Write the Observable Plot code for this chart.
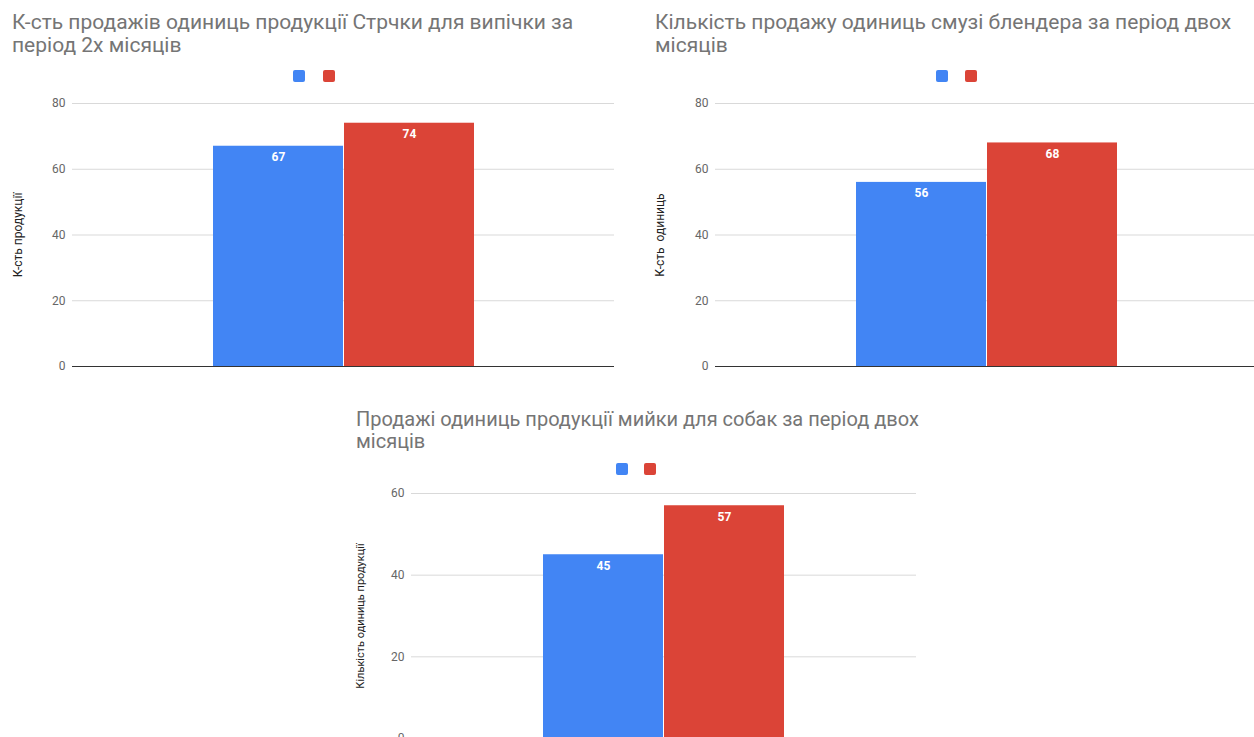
<!DOCTYPE html>
<html>
<head>
<meta charset="utf-8">
<script src="https://cdn.jsdelivr.net/npm/d3@7"></script>
<script src="https://cdn.jsdelivr.net/npm/@observablehq/plot@0.6"></script>
<style>
  html, body { margin: 0; padding: 0; background: #fff; width: 1254px; height: 737px; overflow: hidden; font-family: Roboto, sans-serif; }
  .abs { position: absolute; }
  .title { color: #757575; white-space: nowrap; }
  .sq { position: absolute; width: 12px; height: 12px; border-radius: 2px; }
  svg { overflow: visible; }
</style>
</head>
<body>
<div id="root"></div>
<script>
// ---- data ----
const series = ["Період 1", "Період 2"];
const colors = ["#4285F4", "#DB4437"];

const titles1 = ["К-сть продажів одиниць продукції Стрчки для випічки за", "період 2х місяців"];
const yLabel1 = "К-сть продукції";
const values1 = [67, 74];
const yTicks1 = [0, 20, 40, 60, 80];

const titles2 = ["Кількість продажу одиниць смузі блендера за період двох", "місяців"];
const yLabel2 = "К-сть  одиниць";
const values2 = [56, 68];
const yTicks2 = [0, 20, 40, 60, 80];

const titles3 = ["Продажі одиниць продукції мийки для собак за період двох", "місяців"];
const yLabel3 = "Кількість одиниць продукції";
const values3 = [45, 57];
const yTicks3 = [0, 20, 40, 60];

const root = document.getElementById("root");

function addDiv(cls, css, html) {
  const d = document.createElement("div");
  d.className = cls;
  Object.assign(d.style, css);
  if (html != null) d.innerHTML = html;
  root.appendChild(d);
  return d;
}

function chart(cfg) {
  const data = series.map((s, i) => ({s, v: cfg.values[i]}));
  addDiv("abs title", {left: cfg.titleX + "px", top: cfg.titleY + "px", fontSize: cfg.titleSize + "px", lineHeight: cfg.titleLH + "px"}, cfg.titles.join("<br>"));
  series.forEach((s, i) => addDiv("sq", {left: cfg.legX[i] + "px", top: cfg.legY + "px", background: colors[i]}));
  const p = Plot.plot({
    width: cfg.width, height: cfg.height,
    marginLeft: cfg.ml, marginRight: cfg.mr, marginTop: cfg.mt, marginBottom: cfg.mb,
    style: {fontFamily: "Roboto, sans-serif", fontSize: "12px", background: "transparent", overflow: "visible"},
    x: {domain: series, paddingInner: 0.008, paddingOuter: cfg.po, axis: null},
    y: {domain: [0, cfg.yMax], axis: null},
    color: {domain: series, range: colors},
    marks: [
      Plot.gridY(cfg.yTicks, {stroke: "#d9d9d9", strokeOpacity: 1}),
      Plot.axisY(cfg.yTicks, {tickSize: 0, tickPadding: 7, label: null, color: "#666", fontSize: 12}),
      Plot.text([cfg.yLabel], {frameAnchor: "left", textAnchor: "middle", text: d => d, rotate: -90, dx: -cfg.labelOff, fill: "#222", fontSize: cfg.labelSize}),
      Plot.barY(data, {x: "s", y: "v", fill: "s"}),
      Plot.text(data, {x: "s", y: "v", text: d => String(d.v), dy: 11, fill: "white", fontWeight: "bold", fontSize: 12}),
      Plot.ruleY([0], {stroke: "#333", strokeWidth: 1})
    ]
  });
  const wrap = addDiv("abs", {left: cfg.x + "px", top: cfg.y + "px"});
  wrap.appendChild(p);
}

chart({titles: titles1, yLabel: yLabel1, values: values1, yTicks: yTicks1, yMax: 80,
  titleX: 12, titleY: 11, titleSize: 21, titleLH: 23, legX: [293, 323], legY: 70,
  x: 0, y: 90, width: 620, height: 290, ml: 72, mr: 6, mt: 13, mb: 14, po: 1.072, labelOff: 54, labelSize: 12});

chart({titles: titles2, yLabel: yLabel2, values: values2, yTicks: yTicks2, yMax: 80,
  titleX: 655, titleY: 11, titleSize: 21, titleLH: 23, legX: [936, 965], legY: 70,
  x: 640, y: 90, width: 614, height: 290, ml: 75, mr: -4, mt: 13, mb: 14, po: 1.076, labelOff: 55, labelSize: 12});

chart({titles: titles3, yLabel: yLabel3, values: values3, yTicks: yTicks3, yMax: 60,
  titleX: 356, titleY: 408, titleSize: 20, titleLH: 22, legX: [616, 644], legY: 463,
  x: 340, y: 480, width: 590, height: 270, ml: 71, mr: 14, mt: 13, mb: 12, po: 1.074, labelOff: 51, labelSize: 11});
</script>
</body>
</html>
